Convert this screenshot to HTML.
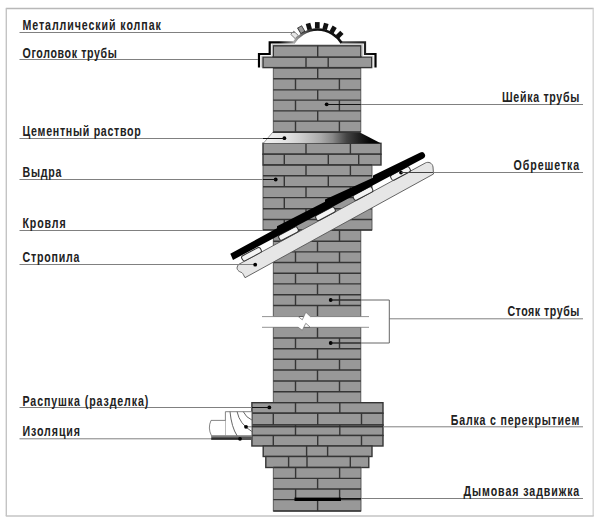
<!DOCTYPE html>
<html><head><meta charset="utf-8"><style>
html,body{margin:0;padding:0;background:#fff;}
svg{display:block;}
.t{font-family:"Liberation Sans",sans-serif;font-size:14px;font-weight:bold;fill:#222;}
</style></head><body>
<svg width="600" height="525" viewBox="0 0 600 525">
<line x1="5.8" y1="8.5" x2="593.7" y2="8.5" stroke="#b8b8b8" stroke-width="1.4"/>
<line x1="6.3" y1="8.5" x2="6.3" y2="516" stroke="#c4c4c4" stroke-width="1.4"/>
<line x1="593.2" y1="8.5" x2="593.2" y2="516" stroke="#d4d4d4" stroke-width="1.4"/>
<line x1="5.8" y1="516" x2="593.7" y2="516" stroke="#c4c4c4" stroke-width="1.5"/>
<rect x="273.3" y="230" width="87.50" height="86.50" fill="#989898" stroke="#505050" stroke-width="0.9"/>
<line x1="273.3" y1="230" x2="360.8" y2="230" stroke="#353535" stroke-width="1.4"/>
<line x1="273.3" y1="241.2" x2="360.8" y2="241.2" stroke="#353535" stroke-width="1.4"/>
<line x1="273.3" y1="251.9" x2="360.8" y2="251.9" stroke="#353535" stroke-width="1.4"/>
<line x1="273.3" y1="262.5" x2="360.8" y2="262.5" stroke="#353535" stroke-width="1.4"/>
<line x1="273.3" y1="273.2" x2="360.8" y2="273.2" stroke="#353535" stroke-width="1.4"/>
<line x1="273.3" y1="283.9" x2="360.8" y2="283.9" stroke="#353535" stroke-width="1.4"/>
<line x1="273.3" y1="294.8" x2="360.8" y2="294.8" stroke="#353535" stroke-width="1.4"/>
<line x1="273.3" y1="305.5" x2="360.8" y2="305.5" stroke="#353535" stroke-width="1.4"/>
<line x1="295.5" y1="230" x2="295.5" y2="241.2" stroke="#353535" stroke-width="1.4"/>
<line x1="339.5" y1="230" x2="339.5" y2="241.2" stroke="#353535" stroke-width="1.4"/>
<line x1="317.5" y1="241.2" x2="317.5" y2="251.9" stroke="#353535" stroke-width="1.4"/>
<line x1="295.5" y1="251.9" x2="295.5" y2="262.5" stroke="#353535" stroke-width="1.4"/>
<line x1="339.5" y1="251.9" x2="339.5" y2="262.5" stroke="#353535" stroke-width="1.4"/>
<line x1="317.5" y1="262.5" x2="317.5" y2="273.2" stroke="#353535" stroke-width="1.4"/>
<line x1="295.5" y1="273.2" x2="295.5" y2="283.9" stroke="#353535" stroke-width="1.4"/>
<line x1="339.5" y1="273.2" x2="339.5" y2="283.9" stroke="#353535" stroke-width="1.4"/>
<line x1="317.5" y1="283.9" x2="317.5" y2="294.8" stroke="#353535" stroke-width="1.4"/>
<line x1="295.5" y1="294.8" x2="295.5" y2="305.5" stroke="#353535" stroke-width="1.4"/>
<line x1="339.5" y1="294.8" x2="339.5" y2="305.5" stroke="#353535" stroke-width="1.4"/>
<line x1="317.5" y1="305.5" x2="317.5" y2="316.5" stroke="#353535" stroke-width="1.4"/>
<rect x="273.3" y="327.3" width="87.50" height="75.40" fill="#989898" stroke="#505050" stroke-width="0.9"/>
<line x1="273.3" y1="338" x2="360.8" y2="338" stroke="#353535" stroke-width="1.4"/>
<line x1="273.3" y1="348.7" x2="360.8" y2="348.7" stroke="#353535" stroke-width="1.4"/>
<line x1="273.3" y1="359.3" x2="360.8" y2="359.3" stroke="#353535" stroke-width="1.4"/>
<line x1="273.3" y1="370" x2="360.8" y2="370" stroke="#353535" stroke-width="1.4"/>
<line x1="273.3" y1="381" x2="360.8" y2="381" stroke="#353535" stroke-width="1.4"/>
<line x1="273.3" y1="391.7" x2="360.8" y2="391.7" stroke="#353535" stroke-width="1.4"/>
<line x1="273.3" y1="402.7" x2="360.8" y2="402.7" stroke="#353535" stroke-width="1.4"/>
<line x1="317.5" y1="327.3" x2="317.5" y2="338" stroke="#353535" stroke-width="1.4"/>
<line x1="295.5" y1="338" x2="295.5" y2="348.7" stroke="#353535" stroke-width="1.4"/>
<line x1="339.5" y1="338" x2="339.5" y2="348.7" stroke="#353535" stroke-width="1.4"/>
<line x1="317.5" y1="348.7" x2="317.5" y2="359.3" stroke="#353535" stroke-width="1.4"/>
<line x1="295.5" y1="359.3" x2="295.5" y2="370" stroke="#353535" stroke-width="1.4"/>
<line x1="339.5" y1="359.3" x2="339.5" y2="370" stroke="#353535" stroke-width="1.4"/>
<line x1="317.5" y1="370" x2="317.5" y2="381" stroke="#353535" stroke-width="1.4"/>
<line x1="295.5" y1="381" x2="295.5" y2="391.7" stroke="#353535" stroke-width="1.4"/>
<line x1="339.5" y1="381" x2="339.5" y2="391.7" stroke="#353535" stroke-width="1.4"/>
<line x1="317.5" y1="391.7" x2="317.5" y2="402.7" stroke="#353535" stroke-width="1.4"/>
<rect x="263" y="143.3" width="118.00" height="10.90" fill="#989898" stroke="#353535" stroke-width="1.4"/>
<line x1="306" y1="143.3" x2="306" y2="154.2" stroke="#353535" stroke-width="1.4"/>
<line x1="350.4" y1="143.3" x2="350.4" y2="154.2" stroke="#353535" stroke-width="1.4"/>
<rect x="263" y="154.2" width="118.00" height="10.80" fill="#989898" stroke="#353535" stroke-width="1.4"/>
<line x1="284.3" y1="154.2" x2="284.3" y2="165" stroke="#353535" stroke-width="1.4"/>
<line x1="328.3" y1="154.2" x2="328.3" y2="165" stroke="#353535" stroke-width="1.4"/>
<line x1="358.7" y1="154.2" x2="358.7" y2="165" stroke="#353535" stroke-width="1.4"/>
<rect x="263" y="165" width="109.00" height="65.00" fill="#989898" stroke="#505050" stroke-width="0.9"/>
<line x1="263" y1="165" x2="372" y2="165" stroke="#353535" stroke-width="1.4"/>
<line x1="263" y1="175.8" x2="372" y2="175.8" stroke="#353535" stroke-width="1.4"/>
<line x1="263" y1="186.7" x2="372" y2="186.7" stroke="#353535" stroke-width="1.4"/>
<line x1="263" y1="197.6" x2="372" y2="197.6" stroke="#353535" stroke-width="1.4"/>
<line x1="263" y1="208.7" x2="372" y2="208.7" stroke="#353535" stroke-width="1.4"/>
<line x1="263" y1="219.5" x2="372" y2="219.5" stroke="#353535" stroke-width="1.4"/>
<line x1="263" y1="230" x2="372" y2="230" stroke="#353535" stroke-width="1.4"/>
<line x1="306" y1="165" x2="306" y2="175.8" stroke="#353535" stroke-width="1.4"/>
<line x1="350.4" y1="165" x2="350.4" y2="175.8" stroke="#353535" stroke-width="1.4"/>
<line x1="284.3" y1="175.8" x2="284.3" y2="186.7" stroke="#353535" stroke-width="1.4"/>
<line x1="328.3" y1="175.8" x2="328.3" y2="186.7" stroke="#353535" stroke-width="1.4"/>
<line x1="306" y1="186.7" x2="306" y2="197.6" stroke="#353535" stroke-width="1.4"/>
<line x1="350.4" y1="186.7" x2="350.4" y2="197.6" stroke="#353535" stroke-width="1.4"/>
<line x1="284.3" y1="197.6" x2="284.3" y2="208.7" stroke="#353535" stroke-width="1.4"/>
<line x1="328.3" y1="197.6" x2="328.3" y2="208.7" stroke="#353535" stroke-width="1.4"/>
<line x1="306" y1="208.7" x2="306" y2="219.5" stroke="#353535" stroke-width="1.4"/>
<line x1="350.4" y1="208.7" x2="350.4" y2="219.5" stroke="#353535" stroke-width="1.4"/>
<line x1="284.3" y1="219.5" x2="284.3" y2="230" stroke="#353535" stroke-width="1.4"/>
<line x1="328.3" y1="219.5" x2="328.3" y2="230" stroke="#353535" stroke-width="1.4"/>
<defs><linearGradient id="cem" gradientUnits="userSpaceOnUse" x1="263.4" y1="0" x2="380.7" y2="0"><stop offset="0" stop-color="#f2f2f2"/><stop offset="0.2" stop-color="#e2e2e2"/><stop offset="0.31" stop-color="#d0d0d0"/><stop offset="0.49" stop-color="#aaaaaa"/><stop offset="0.59" stop-color="#888"/><stop offset="0.71" stop-color="#444"/><stop offset="0.81" stop-color="#222"/><stop offset="0.91" stop-color="#050505"/><stop offset="1" stop-color="#000"/></linearGradient><linearGradient id="arcg" gradientUnits="userSpaceOnUse" x1="292" y1="0" x2="343" y2="0"><stop offset="0" stop-color="#bbb"/><stop offset="0.3" stop-color="#444"/><stop offset="0.45" stop-color="#111"/><stop offset="1" stop-color="#111"/></linearGradient><linearGradient id="capl" gradientUnits="userSpaceOnUse" x1="258" y1="0" x2="296" y2="0"><stop offset="0" stop-color="#000"/><stop offset="0.55" stop-color="#000"/><stop offset="1" stop-color="#aaa"/></linearGradient><linearGradient id="capr" gradientUnits="userSpaceOnUse" x1="340" y1="0" x2="376" y2="0"><stop offset="0" stop-color="#555"/><stop offset="0.7" stop-color="#222"/><stop offset="1" stop-color="#000"/></linearGradient></defs>
<polygon points="272.5,132.5 360,132.5 380.7,143.2 263.4,143.2" fill="url(#cem)"/>
<line x1="272.5" y1="132.5" x2="360" y2="132.5" stroke="#333" stroke-width="1.2"/>
<line x1="272.5" y1="132.5" x2="263.4" y2="143.2" stroke="#888" stroke-width="0.8"/>
<rect x="273.3" y="67.8" width="87.50" height="64.20" fill="#989898" stroke="#505050" stroke-width="0.9"/>
<line x1="273.3" y1="67.8" x2="360.8" y2="67.8" stroke="#353535" stroke-width="1.4"/>
<line x1="273.3" y1="78.7" x2="360.8" y2="78.7" stroke="#353535" stroke-width="1.4"/>
<line x1="273.3" y1="89.9" x2="360.8" y2="89.9" stroke="#353535" stroke-width="1.4"/>
<line x1="273.3" y1="100.1" x2="360.8" y2="100.1" stroke="#353535" stroke-width="1.4"/>
<line x1="273.3" y1="110.9" x2="360.8" y2="110.9" stroke="#353535" stroke-width="1.4"/>
<line x1="273.3" y1="121.1" x2="360.8" y2="121.1" stroke="#353535" stroke-width="1.4"/>
<line x1="273.3" y1="132" x2="360.8" y2="132" stroke="#353535" stroke-width="1.4"/>
<line x1="317.7" y1="67.8" x2="317.7" y2="78.7" stroke="#353535" stroke-width="1.4"/>
<line x1="295.5" y1="78.7" x2="295.5" y2="89.9" stroke="#353535" stroke-width="1.4"/>
<line x1="339.4" y1="78.7" x2="339.4" y2="89.9" stroke="#353535" stroke-width="1.4"/>
<line x1="317.7" y1="89.9" x2="317.7" y2="100.1" stroke="#353535" stroke-width="1.4"/>
<line x1="295.5" y1="100.1" x2="295.5" y2="110.9" stroke="#353535" stroke-width="1.4"/>
<line x1="339.4" y1="100.1" x2="339.4" y2="110.9" stroke="#353535" stroke-width="1.4"/>
<line x1="317.7" y1="110.9" x2="317.7" y2="121.1" stroke="#353535" stroke-width="1.4"/>
<line x1="295.5" y1="121.1" x2="295.5" y2="132" stroke="#353535" stroke-width="1.4"/>
<line x1="339.4" y1="121.1" x2="339.4" y2="132" stroke="#353535" stroke-width="1.4"/>
<rect x="263" y="57" width="108.70" height="10.60" fill="#989898" stroke="#353535" stroke-width="1.4"/>
<line x1="306" y1="57" x2="306" y2="67.6" stroke="#353535" stroke-width="1.4"/>
<line x1="328.2" y1="57" x2="328.2" y2="67.6" stroke="#353535" stroke-width="1.4"/>
<rect x="273.3" y="45.8" width="87.50" height="11.20" fill="#989898" stroke="#353535" stroke-width="1.4"/>
<line x1="317.7" y1="45.8" x2="317.7" y2="57" stroke="#353535" stroke-width="1.4"/>
<path d="M259,67.5 V54 H269.7 V42.3 H295" fill="none" stroke="url(#capl)" stroke-width="2.2"/>
<path d="M340,42.3 H365 V54 H375.5 V67.5" fill="none" stroke="url(#capr)" stroke-width="2.2"/>
<path d="M261.5,67.5 V56.3 H272 V44.5 H362.5 V56.3 H373 V67.5" fill="none" stroke="#bbb" stroke-width="0.7"/>
<path d="M294.8,43.6 L295.2,42.3 A26.9,26.9 0 0 1 340,42.3 L340.4,43.6 Z" fill="#fff"/>
<path d="M293.7,42.8 A28.1,28.1 0 0 1 341.5,42.8" fill="none" stroke="url(#arcg)" stroke-width="2.6"/>
<rect x="292.37" y="31.75" width="4.4" height="6.2" fill="#e6e6e6" stroke="#777" stroke-width="0.9" transform="rotate(-46 294.57 34.95)"/>
<rect x="298.96" y="26.47" width="4.6" height="6.4" fill="#999" stroke="#333" stroke-width="0.9" transform="rotate(-30.5 301.26 29.67)"/>
<rect x="306.51" y="23.25" width="4.7" height="6.4" fill="#111" transform="rotate(-15.5 308.86 26.45)"/>
<rect x="314.95" y="22.10" width="4.7" height="6.4" fill="#111" transform="rotate(0 317.30 25.30)"/>
<rect x="323.13" y="23.18" width="4.7" height="6.4" fill="#111" transform="rotate(15 325.48 26.38)"/>
<rect x="330.75" y="26.33" width="4.7" height="6.4" fill="#111" transform="rotate(30 333.10 29.53)"/>
<rect x="337.29" y="31.36" width="4.7" height="6.4" fill="#111" transform="rotate(45 339.64 34.56)"/>
<rect x="251.9" y="402.7" width="131.10" height="10.50" fill="#989898" stroke="#353535" stroke-width="1.4"/>
<line x1="295.5" y1="402.7" x2="295.5" y2="413.2" stroke="#353535" stroke-width="1.4"/>
<line x1="339.8" y1="402.7" x2="339.8" y2="413.2" stroke="#353535" stroke-width="1.4"/>
<rect x="251.9" y="413.2" width="131.10" height="11.80" fill="#989898" stroke="#353535" stroke-width="1.4"/>
<line x1="273.3" y1="413.2" x2="273.3" y2="425" stroke="#353535" stroke-width="1.4"/>
<line x1="317.7" y1="413.2" x2="317.7" y2="425" stroke="#353535" stroke-width="1.4"/>
<line x1="361.5" y1="413.2" x2="361.5" y2="425" stroke="#353535" stroke-width="1.4"/>
<rect x="251.9" y="425" width="131.10" height="10.50" fill="#989898" stroke="#353535" stroke-width="1.4"/>
<line x1="295.5" y1="425" x2="295.5" y2="435.5" stroke="#353535" stroke-width="1.4"/>
<line x1="339.8" y1="425" x2="339.8" y2="435.5" stroke="#353535" stroke-width="1.4"/>
<rect x="251.9" y="435.5" width="131.10" height="10.50" fill="#989898" stroke="#353535" stroke-width="1.4"/>
<line x1="273.3" y1="435.5" x2="273.3" y2="446" stroke="#353535" stroke-width="1.4"/>
<line x1="317.7" y1="435.5" x2="317.7" y2="446" stroke="#353535" stroke-width="1.4"/>
<line x1="361.5" y1="435.5" x2="361.5" y2="446" stroke="#353535" stroke-width="1.4"/>
<rect x="263.2" y="446" width="108.80" height="10.50" fill="#989898" stroke="#353535" stroke-width="1.4"/>
<line x1="306.6" y1="446" x2="306.6" y2="456.5" stroke="#353535" stroke-width="1.4"/>
<line x1="327.6" y1="446" x2="327.6" y2="456.5" stroke="#353535" stroke-width="1.4"/>
<rect x="265.8" y="456.5" width="103.00" height="11.00" fill="#989898" stroke="#353535" stroke-width="1.4"/>
<line x1="288.6" y1="456.5" x2="288.6" y2="467.5" stroke="#353535" stroke-width="1.4"/>
<line x1="307" y1="456.5" x2="307" y2="467.5" stroke="#353535" stroke-width="1.4"/>
<line x1="350.3" y1="456.5" x2="350.3" y2="467.5" stroke="#353535" stroke-width="1.4"/>
<rect x="273.3" y="467.5" width="87.70" height="43.50" fill="#989898" stroke="#505050" stroke-width="0.9"/>
<line x1="273.3" y1="467.5" x2="361" y2="467.5" stroke="#353535" stroke-width="1.4"/>
<line x1="273.3" y1="478.4" x2="361" y2="478.4" stroke="#353535" stroke-width="1.4"/>
<line x1="273.3" y1="489" x2="361" y2="489" stroke="#353535" stroke-width="1.4"/>
<line x1="273.3" y1="499.6" x2="361" y2="499.6" stroke="#353535" stroke-width="1.4"/>
<line x1="273.3" y1="511" x2="361" y2="511" stroke="#353535" stroke-width="1.4"/>
<line x1="295.6" y1="467.5" x2="295.6" y2="478.4" stroke="#353535" stroke-width="1.4"/>
<line x1="339.6" y1="467.5" x2="339.6" y2="478.4" stroke="#353535" stroke-width="1.4"/>
<line x1="317.6" y1="478.4" x2="317.6" y2="489" stroke="#353535" stroke-width="1.4"/>
<line x1="295.6" y1="489" x2="295.6" y2="499.6" stroke="#353535" stroke-width="1.4"/>
<line x1="339.6" y1="489" x2="339.6" y2="499.6" stroke="#353535" stroke-width="1.4"/>
<line x1="317.6" y1="499.6" x2="317.6" y2="511" stroke="#353535" stroke-width="1.4"/>
<rect x="294.5" y="497.6" width="46.5" height="3.4" fill="#000"/>
<path d="M262,316.6 H298.2 L302.3,319.8 L305.8,312.2 L310.4,316.6 H369 V327.3 H310.4 L305.8,323.3 L302.3,330.3 L298.2,327.3 H262 Z" fill="#fff"/>
<path d="M262,316.6 H298.2 L302.3,319.8 L305.8,312.2 L310.4,316.6 H369" fill="none" stroke="#777" stroke-width="0.8"/>
<path d="M262,327.3 H298.2 L302.3,330.3 L305.8,323.3 L310.4,327.3 H369" fill="none" stroke="#777" stroke-width="0.8"/>
<path d="M225.4,411.7 H251.9 V435.8 H225.4 Z" fill="#fff" stroke="#666" stroke-width="0.8"/>
<path d="M225.4,420.4 H211 Q207.5,428 211.5,435.8 H225.4" fill="#fff" stroke="#666" stroke-width="0.8"/>
<path d="M243.3,411.7 Q246,417.5 251.9,420" fill="none" stroke="#555" stroke-width="0.9"/>
<path d="M237.1,411.7 Q239.5,424 251.9,431.5" fill="none" stroke="#555" stroke-width="0.9"/>
<path d="M230,411.7 Q231.5,427 237.1,435.8" fill="none" stroke="#555" stroke-width="0.9"/>
<rect x="211.25" y="435.8" width="40.65" height="4.2" fill="#555"/>
<line x1="211.25" y1="436.3" x2="251.9" y2="436.3" stroke="#aaa" stroke-width="0.6"/>
<path d="M238.3,264.6 L425.3,163 C428.5,161.3 432.5,163 433,167 L433.5,174 L245,277.7 C243.5,275 243,273.5 241.8,272.6 C238.5,271.5 236.5,269.5 237.2,267 Z" fill="#e6e6e6" stroke="#555" stroke-width="0.9"/>
<rect x="241.0" y="251.39999999999998" width="21" height="5.6" rx="2" fill="#f4f4f4" stroke="#333" stroke-width="1" transform="rotate(-28 251.5 254.2)"/>
<rect x="278.0" y="230.79999999999998" width="21" height="5.6" rx="2" fill="#f4f4f4" stroke="#333" stroke-width="1" transform="rotate(-28 288.5 233.6)"/>
<rect x="315.0" y="211.0" width="21" height="5.6" rx="2" fill="#f4f4f4" stroke="#333" stroke-width="1" transform="rotate(-28 325.5 213.8)"/>
<rect x="352.5" y="190.79999999999998" width="21" height="5.6" rx="2" fill="#f4f4f4" stroke="#333" stroke-width="1" transform="rotate(-28 363 193.6)"/>
<rect x="390.0" y="170.7" width="21" height="5.6" rx="2" fill="#f4f4f4" stroke="#333" stroke-width="1" transform="rotate(-28 400.5 173.5)"/>
<path d="M230.3,253.7 L277,228.2 L277,226.2 L325,201.8 L325,199.6 L373,177.8 L373,175.6 L420.3,152.6 A3,3 0 0 1 423.3,158.4 L233,259.9 Z" fill="#000"/>
<line x1="19.5" y1="32.5" x2="295" y2="32.5" stroke="#808080" stroke-width="1"/>
<line x1="19.5" y1="59.5" x2="258" y2="59.5" stroke="#808080" stroke-width="1"/>
<line x1="19.5" y1="138.5" x2="284.4" y2="138.5" stroke="#808080" stroke-width="1"/>
<circle cx="284.4" cy="138.2" r="1.9" fill="#000"/>
<line x1="19.5" y1="179.5" x2="275.7" y2="179.5" stroke="#808080" stroke-width="1"/>
<circle cx="275.7" cy="179.5" r="1.9" fill="#000"/>
<line x1="19.5" y1="230.5" x2="263" y2="230.5" stroke="#808080" stroke-width="1"/>
<line x1="19.5" y1="264.5" x2="255.2" y2="264.5" stroke="#808080" stroke-width="1"/>
<circle cx="255.2" cy="264.7" r="1.9" fill="#000"/>
<line x1="19.5" y1="407.5" x2="269.3" y2="407.5" stroke="#808080" stroke-width="1"/>
<circle cx="269.3" cy="407.4" r="1.9" fill="#000"/>
<line x1="19.5" y1="438.8" x2="240" y2="438.8" stroke="#808080" stroke-width="1"/>
<circle cx="240" cy="438.8" r="1.9" fill="#000"/>
<line x1="327" y1="104.5" x2="583" y2="104.5" stroke="#808080" stroke-width="1"/>
<circle cx="326.7" cy="104.3" r="1.9" fill="#000"/>
<line x1="401" y1="172.5" x2="583" y2="172.5" stroke="#808080" stroke-width="1"/>
<circle cx="401" cy="172.6" r="1.9" fill="#000"/>
<line x1="389.3" y1="318.8" x2="583" y2="318.8" stroke="#808080" stroke-width="1"/>
<path d="M330.7,300 H389.3 V343 H330.7" fill="none" stroke="#666" stroke-width="1"/>
<circle cx="330.7" cy="300" r="1.9" fill="#000"/>
<circle cx="330.7" cy="343" r="1.9" fill="#000"/>
<line x1="246" y1="426.8" x2="583" y2="426.8" stroke="#808080" stroke-width="1"/>
<circle cx="246" cy="426.8" r="1.9" fill="#000"/>
<line x1="341" y1="498.5" x2="583" y2="498.5" stroke="#808080" stroke-width="1"/>
<line x1="263" y1="138.5" x2="284.4" y2="138.5" stroke="#111" stroke-width="1"/>
<line x1="263" y1="179.5" x2="275.7" y2="179.5" stroke="#111" stroke-width="1"/>
<line x1="251.9" y1="407.5" x2="269.3" y2="407.5" stroke="#111" stroke-width="1"/>
<line x1="327" y1="104.5" x2="360.8" y2="104.5" stroke="#111" stroke-width="1"/>
<line x1="401" y1="172.5" x2="433" y2="172.5" stroke="#444" stroke-width="1"/>
<line x1="330.7" y1="300" x2="360.8" y2="300" stroke="#111" stroke-width="1"/>
<line x1="330.7" y1="343" x2="360.8" y2="343" stroke="#111" stroke-width="1"/>
<line x1="251.9" y1="426.8" x2="383" y2="426.8" stroke="#111" stroke-width="1"/>
<line x1="211.25" y1="438.8" x2="240" y2="438.8" stroke="#111" stroke-width="1"/>
<line x1="341" y1="498.5" x2="361" y2="498.5" stroke="#111" stroke-width="1"/>
<text transform="translate(22.5 30) scale(0.76 1)" x="0" y="0" textLength="181.97" lengthAdjust="spacing" class="t">Металлический колпак</text>
<text transform="translate(22.5 57.5) scale(0.76 1)" x="0" y="0" textLength="124.08" lengthAdjust="spacing" class="t">Оголовок трубы</text>
<text transform="translate(22.5 135.8) scale(0.76 1)" x="0" y="0" textLength="155.66" lengthAdjust="spacing" class="t">Цементный раствор</text>
<text transform="translate(22.5 176.9) scale(0.76 1)" x="0" y="0" textLength="51.18" lengthAdjust="spacing" class="t">Выдра</text>
<text transform="translate(22.5 228.1) scale(0.76 1)" x="0" y="0" textLength="56.71" lengthAdjust="spacing" class="t">Кровля</text>
<text transform="translate(22.5 262) scale(0.76 1)" x="0" y="0" textLength="75.00" lengthAdjust="spacing" class="t">Стропила</text>
<text transform="translate(22.5 405.8) scale(0.76 1)" x="0" y="0" textLength="165.53" lengthAdjust="spacing" class="t">Распушка (разделка)</text>
<text transform="translate(22.5 436.2) scale(0.76 1)" x="0" y="0" textLength="75.66" lengthAdjust="spacing" class="t">Изоляция</text>
<text transform="translate(501.99999999999994 102.1) scale(0.76 1)" x="0" y="0" textLength="101.71" lengthAdjust="spacing" class="t">Шейка трубы</text>
<text transform="translate(513.5 170.1) scale(0.76 1)" x="0" y="0" textLength="86.58" lengthAdjust="spacing" class="t">Обрешетка</text>
<text transform="translate(507.4 315.8) scale(0.76 1)" x="0" y="0" textLength="94.61" lengthAdjust="spacing" class="t">Стояк трубы</text>
<text transform="translate(450.79999999999995 424.5) scale(0.76 1)" x="0" y="0" textLength="169.08" lengthAdjust="spacing" class="t">Балка с перекрытием</text>
<text transform="translate(463.59999999999997 495.5) scale(0.76 1)" x="0" y="0" textLength="152.24" lengthAdjust="spacing" class="t">Дымовая задвижка</text>
</svg>
</body></html>
